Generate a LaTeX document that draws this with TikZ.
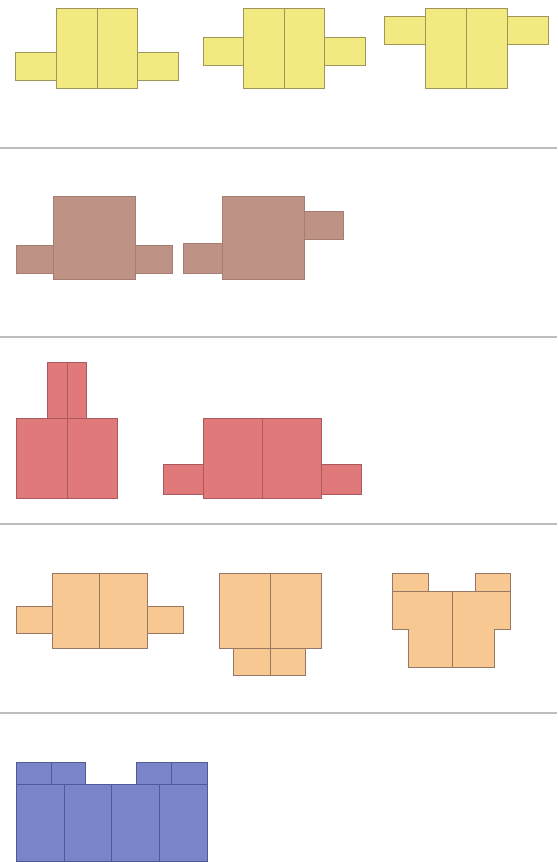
\documentclass[tikz,border=0pt]{standalone}
\begin{document}
\begin{tikzpicture}[x=1pt,y=-1pt,
  yel/.style={fill={rgb,255:red,242;green,233;blue,128},draw={rgb,255:red,160;green,150;blue,90},line width=0.8pt},
  brn/.style={fill={rgb,255:red,190;green,146;blue,132},draw={rgb,255:red,165;green,125;blue,115},line width=0.6pt},
  red/.style={fill={rgb,255:red,224;green,122;blue,122},draw={rgb,255:red,170;green,90;blue,95},line width=0.8pt},
  org/.style={fill={rgb,255:red,247;green,200;blue,146},draw={rgb,255:red,150;green,120;blue,100},line width=0.8pt},
  blu/.style={fill={rgb,255:red,122;green,132;blue,200},draw={rgb,255:red,80;green,90;blue,150},line width=0.8pt},
  sep/.style={draw={rgb,255:red,190;green,190;blue,190},line width=2pt}]
\useasboundingbox (0,0) rectangle (557,862);
\fill[white] (0,0) rectangle (557,862);
% separators
\draw[sep] (0,148) -- (557,148);
\draw[sep] (0,337) -- (557,337);
\draw[sep] (0,524) -- (557,524);
\draw[sep] (0,713) -- (557,713);
% yellow row
\draw[yel] (15,52) rectangle (56,80);
\draw[yel] (137,52) rectangle (178,80);
\draw[yel] (56,8) rectangle (137,88);
\draw[yel] (97,8) -- (97,88);
\draw[yel] (203,37) rectangle (243,65);
\draw[yel] (324,37) rectangle (365,65);
\draw[yel] (243,8) rectangle (324,88);
\draw[yel] (284,8) -- (284,88);
\draw[yel] (384,16) rectangle (425,44);
\draw[yel] (507,16) rectangle (548,44);
\draw[yel] (425,8) rectangle (507,88);
\draw[yel] (466,8) -- (466,88);
% brown row
\draw[brn] (16,245) rectangle (53,273);
\draw[brn] (135,245) rectangle (172,273);
\draw[brn] (53,196) rectangle (135,279);
\draw[brn] (183,243) rectangle (222,273);
\draw[brn] (304,211) rectangle (343,239);
\draw[brn] (222,196) rectangle (304,279);
% red row
\draw[red] (47,362) rectangle (86,418);
\draw[red] (67,362) -- (67,418);
\draw[red] (16,418) rectangle (117,498);
\draw[red] (67,418) -- (67,498);
\draw[red] (163,464) rectangle (203,494);
\draw[red] (321,464) rectangle (361,494);
\draw[red] (203,418) rectangle (321,498);
\draw[red] (262,418) -- (262,498);
% orange row
\draw[org] (16,606) rectangle (52,633);
\draw[org] (147,606) rectangle (183,633);
\draw[org] (52,573) rectangle (147,648);
\draw[org] (99,573) -- (99,648);
\draw[org] (233,648) rectangle (305,675);
\draw[org] (270,648) -- (270,675);
\draw[org] (219,573) rectangle (321,648);
\draw[org] (270,573) -- (270,648);
\draw[org] (392,573) rectangle (428,591);
\draw[org] (475,573) rectangle (510,591);
\draw[org] (392,591) -- (510,591) -- (510,629) -- (494,629) -- (494,667) -- (408,667) -- (408,629) -- (392,629) -- cycle;
\draw[org] (452,591) -- (452,667);
% blue row
\draw[blu] (16,762) rectangle (85,784);
\draw[blu] (51,762) -- (51,784);
\draw[blu] (136,762) rectangle (207,784);
\draw[blu] (171,762) -- (171,784);
\draw[blu] (16,784) rectangle (207,861);
\draw[blu] (64,784) -- (64,861);
\draw[blu] (111,784) -- (111,861);
\draw[blu] (159,784) -- (159,861);
\end{tikzpicture}
\end{document}
